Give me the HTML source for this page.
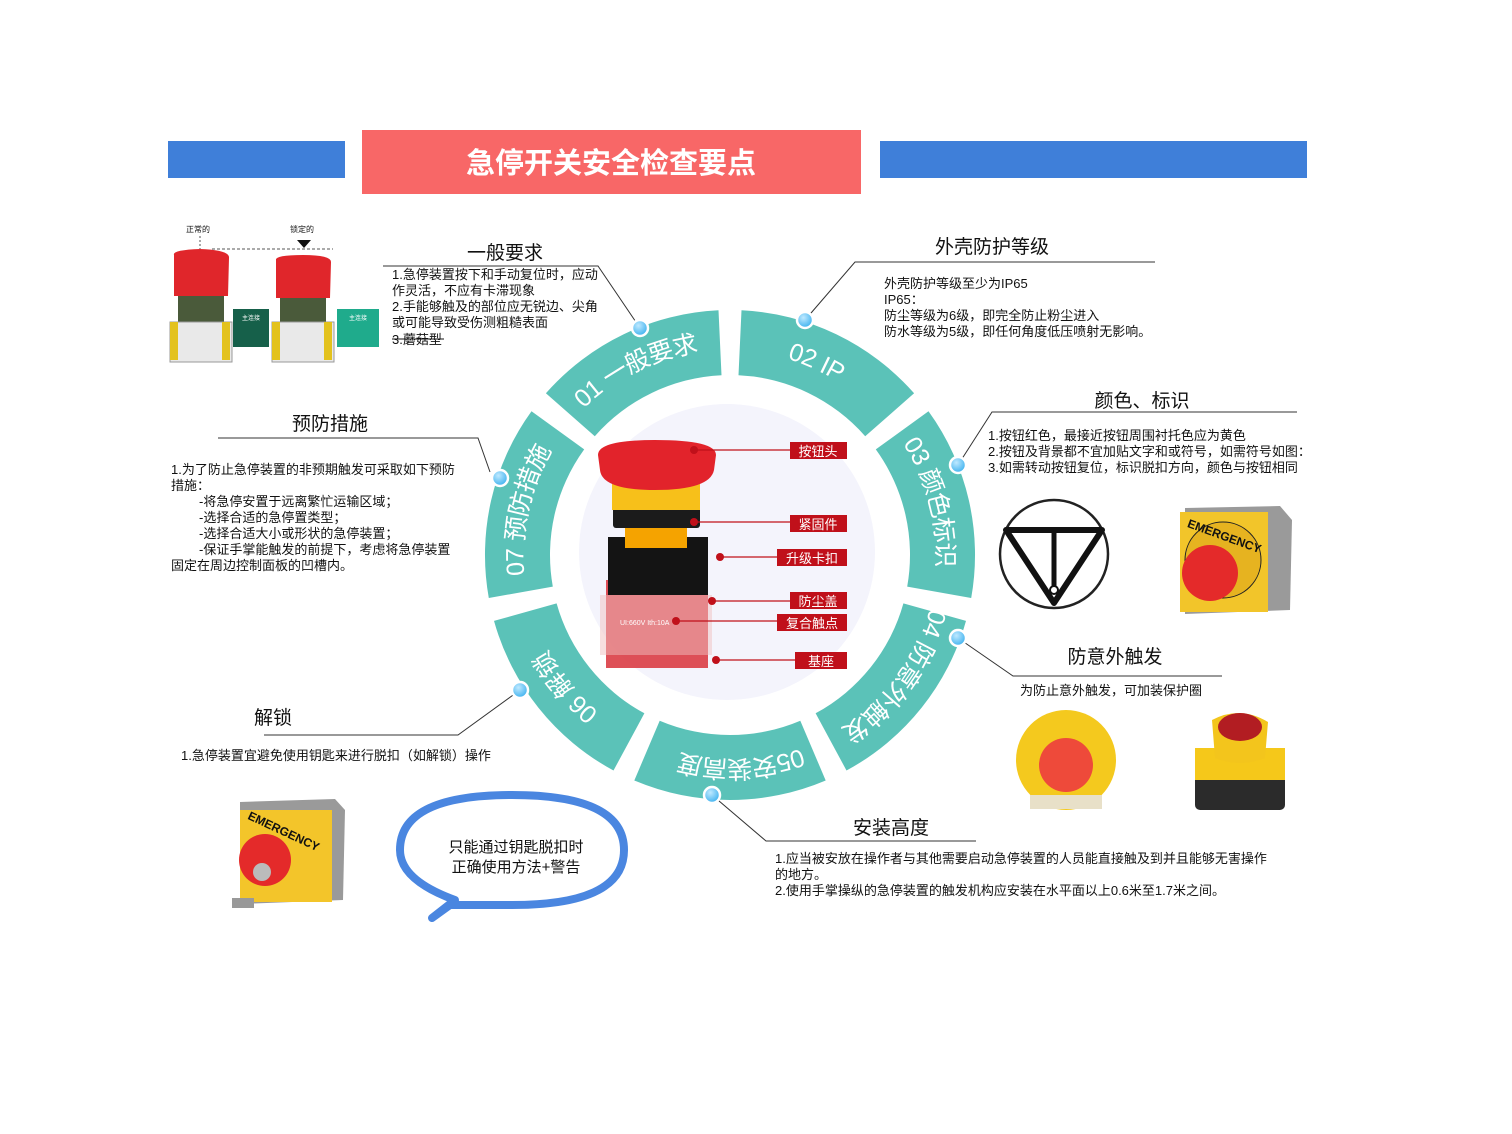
<!DOCTYPE html>
<html><head><meta charset="utf-8"><style>
html,body{margin:0;padding:0;background:#fff}
svg{display:block}
text{font-family:"Liberation Sans","Noto Sans CJK SC",sans-serif;fill:#111}
</style></head><body>
<svg width="1512" height="1134" viewBox="0 0 1512 1134" xmlns="http://www.w3.org/2000/svg">
<defs>
<path id="circ" d="M 635.4 744.7 A 212 212 0 1 1 824.6 365.3 A 212 212 0 1 1 635.4 744.7"/>
<radialGradient id="dot" cx="40%" cy="35%" r="65%"><stop offset="0" stop-color="#bfe9ff"/><stop offset="1" stop-color="#3fb2ef"/></radialGradient>
</defs>
<rect x="168" y="141" width="177" height="37" fill="#3f7fd9"/>
<rect x="880" y="141" width="427" height="37" fill="#3f7fd9"/>
<rect x="362" y="130" width="499" height="64" fill="#f86767"/>
<text x="611" y="173" text-anchor="middle" font-size="29" font-weight="bold" style="fill:#fff">急停开关安全检查要点</text>

<circle cx="727" cy="552" r="148" fill="#f4f4fc"/>

<g fill="#5bc2b8">
<path d="M741.5 310.3 A245 245 0 0 1 914.1 393.3 L865.2 436.2 A180 180 0 0 0 738.5 375.2Z"/>
<path d="M928.5 411.3 A245 245 0 0 1 971.2 598 L907.2 586.6 A180 180 0 0 0 875.8 449.4Z"/>
<path d="M966 620.9 A245 245 0 0 1 846.5 770.5 L815.6 713.3 A180 180 0 0 0 903.4 603.4Z"/>
<path d="M825.7 780.5 A245 245 0 0 1 634.3 780.5 L659.7 720.7 A180 180 0 0 0 800.3 720.7Z"/>
<path d="M613.5 770.5 A245 245 0 0 1 494 620.9 L556.6 603.4 A180 180 0 0 0 644.4 713.3Z"/>
<path d="M488.8 598 A245 245 0 0 1 531.5 411.3 L584.2 449.4 A180 180 0 0 0 552.8 586.6Z"/>
<path d="M545.9 393.3 A245 245 0 0 1 718.5 310.3 L721.5 375.2 A180 180 0 0 0 594.8 436.2Z"/>
</g>
<g font-size="25" text-anchor="middle" dominant-baseline="central">
<text style="fill:#fff"><textPath href="#circ" startOffset="92">06 解锁</textPath></text>
<text style="fill:#fff"><textPath href="#circ" startOffset="283">07 预防措施</textPath></text>
<text style="fill:#fff"><textPath href="#circ" startOffset="473">01 一般要求</textPath></text>
<text style="fill:#fff"><textPath href="#circ" startOffset="663">02 IP</textPath></text>
<text style="fill:#fff"><textPath href="#circ" startOffset="853">03 颜色标识</textPath></text>
<text style="fill:#fff"><textPath href="#circ" startOffset="1044">04 防意外触发</textPath></text>
<text style="fill:#fff"><textPath href="#circ" startOffset="1234">05安装高度</textPath></text>
</g>

<g stroke="#333" stroke-width="1" fill="none">
<polyline points="383,266 598,266 640,328"/>
<polyline points="1155,262 855,262 805,320"/>
<polyline points="1297,412 992,412 958,465"/>
<polyline points="1222,676 1013,676 958,638"/>
<polyline points="976,841 766,841 712,795"/>
<polyline points="264,735 458,735 520,690"/>
<polyline points="218,438 478,438 490,472"/>
</g>
<g fill="url(#dot)" stroke="#fff" stroke-width="2.5">
<circle cx="640" cy="328" r="8"/><circle cx="805" cy="320" r="8"/><circle cx="958" cy="465" r="8"/>
<circle cx="958" cy="638" r="8"/><circle cx="712" cy="795" r="8"/><circle cx="520" cy="690" r="8"/><circle cx="500" cy="478" r="8"/>
</g>

<g font-size="19" text-anchor="middle">
<text x="505" y="259">一般要求</text>
<text x="992" y="253">外壳防护等级</text>
<text x="1142" y="407">颜色、标识</text>
<text x="1115" y="663">防意外触发</text>
<text x="891" y="834">安装高度</text>
<text x="273" y="724">解锁</text>
<text x="330" y="430">预防措施</text>
</g>
<g font-size="13">
<text x="392" y="279">1.急停装置按下和手动复位时，应动</text>
<text x="392" y="295">作灵活，不应有卡滞现象</text>
<text x="392" y="311">2.手能够触及的部位应无锐边、尖角</text>
<text x="392" y="327">或可能导致受伤测粗糙表面</text>
<text x="392" y="344">3.蘑菇型</text>
<line x1="392" y1="339" x2="444" y2="339" stroke="#111" stroke-width="1"/>
<text x="884" y="288">外壳防护等级至少为IP65</text>
<text x="884" y="304">IP65：</text>
<text x="884" y="320">防尘等级为6级，即完全防止粉尘进入</text>
<text x="884" y="336">防水等级为5级，即任何角度低压喷射无影响。</text>
<text x="988" y="440">1.按钮红色，最接近按钮周围衬托色应为黄色</text>
<text x="988" y="456">2.按钮及背景都不宜加贴文字和或符号，如需符号如图：</text>
<text x="988" y="472">3.如需转动按钮复位，标识脱扣方向，颜色与按钮相同</text>
<text x="1020" y="695">为防止意外触发，可加装保护圈</text>
<text x="775" y="863">1.应当被安放在操作者与其他需要启动急停装置的人员能直接触及到并且能够无害操作</text>
<text x="775" y="879">的地方。</text>
<text x="775" y="895">2.使用手掌操纵的急停装置的触发机构应安装在水平面以上0.6米至1.7米之间。</text>
<text x="181" y="760">1.急停装置宜避免使用钥匙来进行脱扣（如解锁）操作</text>
<text x="171" y="474">1.为了防止急停装置的非预期触发可采取如下预防</text>
<text x="171" y="490">措施：</text>
<text x="199" y="506">-将急停安置于远离繁忙运输区域；</text>
<text x="199" y="522">-选择合适的急停置类型；</text>
<text x="199" y="538">-选择合适大小或形状的急停装置；</text>
<text x="199" y="554">-保证手掌能触发的前提下，考虑将急停装置</text>
<text x="171" y="570">固定在周边控制面板的凹槽内。</text>
</g>

<g>
<text x="186" y="232" font-size="8">正常的</text><text x="290" y="232" font-size="8">锁定的</text>
<line x1="200" y1="236" x2="200" y2="250" stroke="#555" stroke-dasharray="2,2"/>
<line x1="212" y1="249" x2="333" y2="249" stroke="#555" stroke-dasharray="3,2"/>
<polygon points="297,240 311,240 304,248" fill="#111"/>
<path d="M174 255 Q172 250 200 249 Q230 250 229 258 L228 296 L174 296Z" fill="#e0262b"/>
<rect x="178" y="296" width="46" height="26" fill="#4a5a3a"/>
<rect x="170" y="322" width="62" height="40" fill="#e9e9e9" stroke="#999"/>
<rect x="170" y="322" width="8" height="38" fill="#e3c21d"/><rect x="222" y="322" width="8" height="38" fill="#e3c21d"/>
<rect x="233" y="309" width="36" height="38" fill="#16604a"/>
<text x="251" y="320" font-size="6" text-anchor="middle" style="fill:#fff">主连接</text>
<path d="M276 260 Q275 255 303 255 Q331 255 331 262 L330 298 L276 298Z" fill="#e0262b"/>
<rect x="280" y="298" width="46" height="24" fill="#4a5a3a"/>
<rect x="272" y="322" width="62" height="40" fill="#e9e9e9" stroke="#999"/>
<rect x="272" y="322" width="8" height="38" fill="#e3c21d"/><rect x="324" y="322" width="8" height="38" fill="#e3c21d"/>
<rect x="337" y="309" width="42" height="38" fill="#1fab8c"/>
<text x="358" y="320" font-size="6" text-anchor="middle" style="fill:#fff">主连接</text>
</g>

<g>
<rect x="606" y="580" width="102" height="88" fill="#d8313a" opacity="0.85"/>
<rect x="600" y="595" width="112" height="60" fill="#f0c0c0" opacity="0.5"/>
<rect x="608" y="537" width="100" height="58" fill="#141414"/>
<rect x="625" y="520" width="62" height="28" fill="#f5a300"/>
<rect x="613" y="506" width="87" height="22" rx="3" fill="#1b1b1b"/>
<rect x="612" y="480" width="88" height="30" fill="#f7c01a"/>
<path d="M598 455 Q598 440 655 440 Q716 440 716 455 L714 470 Q710 490 655 490 Q602 490 600 470Z" fill="#e2232b"/>
<text x="620" y="625" font-size="7" style="fill:#fff">UI:660V  Ith:10A</text>
</g>
<g stroke="#c0101a" stroke-width="1.3">
<line x1="694" y1="450" x2="790" y2="450"/><line x1="694" y1="522" x2="790" y2="522"/>
<line x1="720" y1="557" x2="780" y2="557"/><line x1="712" y1="601" x2="790" y2="601"/>
<line x1="676" y1="621" x2="778" y2="621"/><line x1="716" y1="660" x2="795" y2="660"/>
</g>
<g fill="#c0101a">
<circle cx="694" cy="450" r="4"/><circle cx="694" cy="522" r="4"/><circle cx="720" cy="557" r="4"/>
<circle cx="712" cy="601" r="4"/><circle cx="676" cy="621" r="4"/><circle cx="716" cy="660" r="4"/>
<rect x="790" y="442" width="57" height="17"/><rect x="790" y="515" width="57" height="17"/>
<rect x="777" y="549" width="70" height="17"/><rect x="790" y="592" width="57" height="17"/>
<rect x="777" y="614" width="70" height="17"/><rect x="795" y="652" width="52" height="17"/>
</g>
<g font-size="13" text-anchor="middle">
<text x="818" y="456" style="fill:#fff">按钮头</text><text x="818" y="529" style="fill:#fff">紧固件</text>
<text x="812" y="563" style="fill:#fff">升级卡扣</text><text x="818" y="606" style="fill:#fff">防尘盖</text>
<text x="812" y="628" style="fill:#fff">复合触点</text><text x="821" y="666" style="fill:#fff">基座</text>
</g>

<circle cx="1054" cy="554" r="54" fill="none" stroke="#222" stroke-width="2.5"/>
<polygon points="1006,530 1102,530 1054,603" fill="none" stroke="#111" stroke-width="6" stroke-linejoin="round"/>
<line x1="1054" y1="530" x2="1054" y2="588" stroke="#111" stroke-width="5"/>
<circle cx="1054" cy="590" r="4" fill="#fff" stroke="#111" stroke-width="2"/>
<g>
<path d="M1185 508 L1280 506 L1292 520 L1290 610 L1185 614Z" fill="#9a9a9a"/>
<path d="M1180 512 L1268 512 L1268 612 L1180 612Z" fill="#f2c52a"/>
<circle cx="1223" cy="560" r="38" fill="#e6b320" stroke="#222" stroke-width="1"/>
<text x="1223" y="540" font-size="12" font-weight="bold" text-anchor="middle" transform="rotate(20 1223 540)">EMERGENCY</text>
<circle cx="1210" cy="573" r="28" fill="#e42a2a"/>
</g>
<circle cx="1066" cy="760" r="50" fill="#f4c91e"/>
<circle cx="1066" cy="765" r="27" fill="#ee4a3a"/>
<rect x="1030" y="795" width="72" height="14" fill="#e8e0c8"/>
<g>
<rect x="1195" y="762" width="90" height="48" rx="5" fill="#2b2b2b"/>
<path d="M1195 748 L1285 748 L1285 780 L1195 780Z" fill="#f5c81a"/>
<path d="M1212 720 Q1240 705 1268 722 L1265 758 Q1240 768 1215 758Z" fill="#f3c51c"/>
<ellipse cx="1240" cy="727" rx="22" ry="14" fill="#b21d22"/>
</g>
<g>
<path d="M240 802 L335 799 L345 810 L343 900 L240 904Z" fill="#9a9a9a"/>
<rect x="240" y="810" width="92" height="92" fill="#f3c52a"/>
<text x="282" y="835" font-size="12" font-weight="bold" text-anchor="middle" transform="rotate(25 282 835)">EMERGENCY</text>
<circle cx="265" cy="860" r="26" fill="#e42a2a"/>
<circle cx="262" cy="872" r="9" fill="#bbb"/>
<rect x="232" y="898" width="22" height="10" fill="#999"/>
</g>

<path d="M 455 900 Q 400 880 400 850 Q 400 795 512 795 Q 624 795 624 850 Q 624 905 512 905 Q 470 905 450 905 L 432 918 Z" fill="#fff" stroke="#4a86e0" stroke-width="8" stroke-linejoin="round"/>
<text x="516" y="852" font-size="15" text-anchor="middle">只能通过钥匙脱扣时</text>
<text x="516" y="872" font-size="15" text-anchor="middle">正确使用方法+警告</text>
</svg>
</body></html>
